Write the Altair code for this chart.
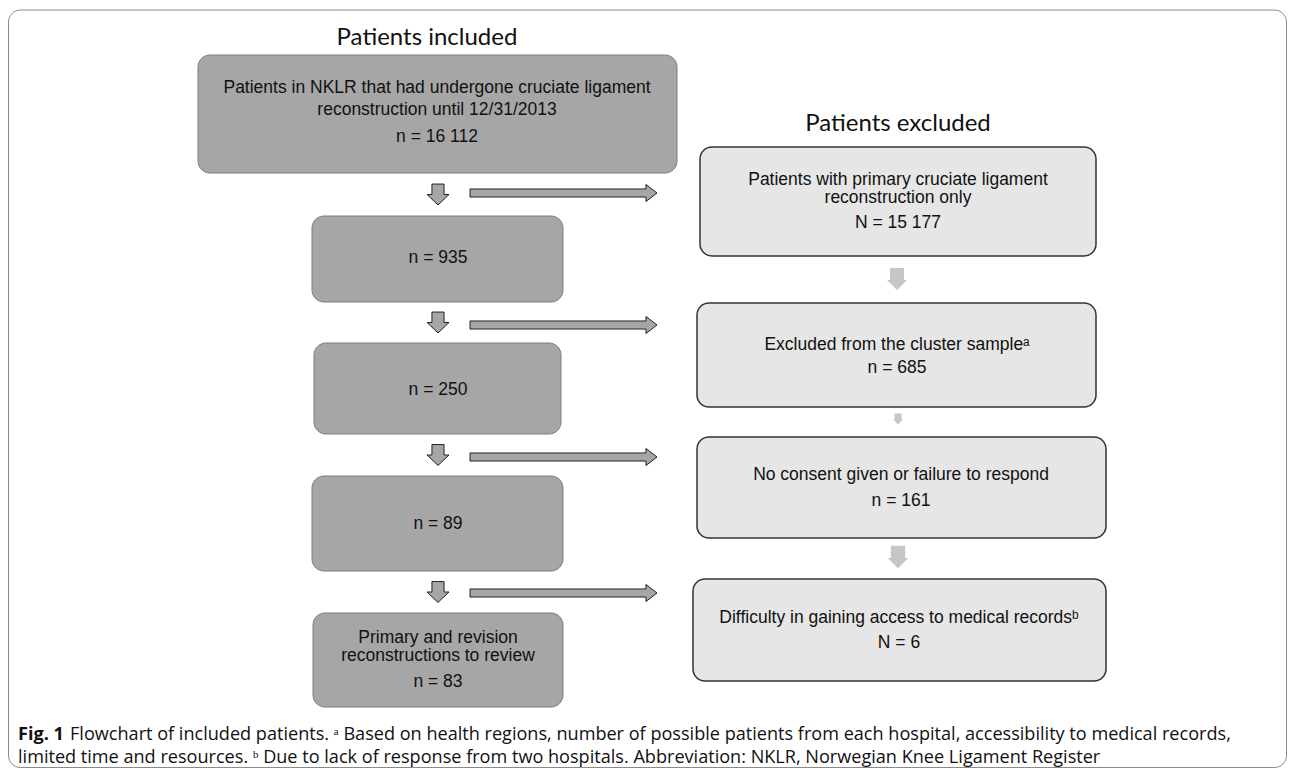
import altair as alt
import pandas as pd

# ---------------- content ----------------
title_included = "Patients included"
title_excluded = "Patients excluded"

included_labels = [
    ["Patients in NKLR that had undergone cruciate ligament", "reconstruction until 12/31/2013"],
    [],
    [],
    [],
    ["Primary and revision", "reconstructions to review"],
]
included_counts = ["n = 16 112", "n = 935", "n = 250", "n = 89", "n = 83"]

excluded_labels = [
    ["Patients with primary cruciate ligament", "reconstruction only"],
    ["Excluded from the cluster sample\u1d43"],
    ["No consent given or failure to respond"],
    ["Difficulty in gaining access to medical records\u1d47"],
]
excluded_counts = ["N = 15 177", "n = 685", "n = 161", "N = 6"]

caption_bold = "Fig. 1"
caption_line1 = ("Flowchart of included patients. \u1d43 Based on health regions, number of possible "
                 "patients from each hospital, accessibility to medical records,")
caption_line2 = ("limited time and resources. \u1d47 Due to lack of response from two hospitals. "
                 "Abbreviation: NKLR, Norwegian Knee Ligament Register")

# ---------------- layout (pixel space of the page) ----------------
inc_x0 = [198, 312, 314, 312, 313]
inc_x1 = [677, 563, 561, 563, 563]
inc_y0 = [55, 216, 343, 476, 613]
inc_y1 = [173, 302, 434, 571, 707]
inc_cx = [437, 438, 438, 438, 438]
inc_line_y = [[88, 110], [], [], [], [638, 656]]
inc_count_y = [137, 258, 390, 524, 682]

exc_x0 = [700, 697, 697, 693]
exc_x1 = [1096, 1096, 1106, 1106]
exc_y0 = [147, 303, 437, 579]
exc_y1 = [256, 407, 538, 681]
exc_cx = [898, 897, 901, 899]
exc_line_y = [[180, 198], [345], [475], [618]]
exc_count_y = [223, 368, 501, 643]

down_y = [194.5, 322.5, 455, 592]
down_x = 438
right_y = [193, 325, 457, 593]
right_x = 563.5
light_y = [279, 419, 557]
light_x = [897, 898, 898]
light_size = [400, 100, 420]

DARK_FILL = "#a6a6a6"
DARK_STROKE = "#7c7c7c"
LIGHT_FILL = "#e6e6e6"
LIGHT_STROKE = "#333333"
BOX_FONT = "Liberation Sans"
TITLE_FONT = "Lato"
CAP_FONT = "Open Sans"
CAP_SIZE = 18.1

X0, X1 = 8, 1287
Y0, Y1 = 8, 768
xs = alt.Scale(domain=[X0, X1], nice=False, zero=False)
ys = alt.Scale(domain=[Y0, Y1], nice=False, zero=False, reverse=True)
noax = None

def X(f):
    return alt.X(f, type="quantitative", scale=xs, axis=noax)

def Y(f):
    return alt.Y(f, type="quantitative", scale=ys, axis=noax)

# boxes
boxes = pd.DataFrame(
    [dict(x0=a, x1=b, y0=c, y1=d, kind="inc") for a, b, c, d in zip(inc_x0, inc_x1, inc_y0, inc_y1)]
    + [dict(x0=a, x1=b, y0=c, y1=d, kind="exc") for a, b, c, d in zip(exc_x0, exc_x1, exc_y0, exc_y1)]
)
inc_boxes = alt.Chart(boxes[boxes.kind == "inc"]).mark_rect(
    fill=DARK_FILL, stroke=DARK_STROKE, strokeWidth=1, cornerRadius=12
).encode(x=X("x0"), x2="x1", y=Y("y0"), y2="y1")
exc_boxes = alt.Chart(boxes[boxes.kind == "exc"]).mark_rect(
    fill=LIGHT_FILL, stroke=LIGHT_STROKE, strokeWidth=1.5, cornerRadius=12
).encode(x=X("x0"), x2="x1", y=Y("y0"), y2="y1")

# frame
frame_df = pd.DataFrame([dict(x0=8.5, x1=1286.5, y0=10, y1=767.5)])
frame = alt.Chart(frame_df).mark_rect(
    fill=None, stroke="#8a8a8a", strokeWidth=1, cornerRadius=12
).encode(x=X("x0"), x2="x1", y=Y("y0"), y2="y1")

# box texts
rows = []
for lines, ly, cnt, cy, cx in zip(included_labels, inc_line_y, included_counts, inc_count_y, inc_cx):
    for t, y in zip(lines, ly):
        rows.append(dict(x=cx, y=y, t=t))
    rows.append(dict(x=cx, y=cy, t=cnt))
for lines, ly, cnt, cy, cx in zip(excluded_labels, exc_line_y, excluded_counts, exc_count_y, exc_cx):
    for t, y in zip(lines, ly):
        rows.append(dict(x=cx, y=y, t=t))
    rows.append(dict(x=cx, y=cy, t=cnt))
box_text = alt.Chart(pd.DataFrame(rows)).mark_text(
    font=BOX_FONT, fontSize=17.5, color="#111111", align="center", baseline="middle"
).encode(x=X("x"), y=Y("y"), text="t:N")

# titles
titles = pd.DataFrame([dict(x=427, y=38, t=title_included), dict(x=898, y=124, t=title_excluded)])
title_text = alt.Chart(titles).mark_text(
    font=TITLE_FONT, fontSize=24, color="#111111", align="center", baseline="middle"
).encode(x=X("x"), y=Y("y"), text="t:N")

# arrows
down_path = "M-0.55,-0.95 L0.55,-0.95 L0.55,0 L1,0 L0,0.95 L-1,0 L-0.55,0 Z"
right_path = ("M-1,-0.043 L0.882,-0.043 L0.882,-0.091 L1,0 L0.882,0.091 "
              "L0.882,0.043 L-1,0.043 Z")
light_path = "M-0.7,-1.1 L0.7,-1.1 L0.7,0.1 L1,0.1 L0,1.1 L-1,0.1 L-0.7,0.1 Z"

down_df = pd.DataFrame(dict(x=[down_x] * len(down_y), y=down_y))
down_arrows = alt.Chart(down_df).mark_point(
    shape=down_path, size=484, filled=True, fill=DARK_FILL, stroke="#222222",
    strokeWidth=1, opacity=1
).encode(x=X("x"), y=Y("y"))

right_df = pd.DataFrame(dict(x=[right_x] * len(right_y), y=right_y))
right_arrows = alt.Chart(right_df).mark_point(
    shape=right_path, size=4 * 93.5 ** 2, filled=True, fill=DARK_FILL, stroke="#222222",
    strokeWidth=1, opacity=1
).encode(x=X("x"), y=Y("y"))

light_df = pd.DataFrame(dict(x=light_x, y=light_y, s=light_size))
light_arrows = alt.Chart(light_df).mark_point(
    shape=light_path, filled=True, fill="#c6c6c6", strokeWidth=0, opacity=1
).encode(x=X("x"), y=Y("y"), size=alt.Size("s:Q", scale=None, legend=None))

# caption
cap = pd.DataFrame([
    dict(x=18, y=735, t=caption_bold, w="bold"),
    dict(x=70, y=735, t=caption_line1, w="normal"),
    dict(x=18, y=758, t=caption_line2, w="normal"),
])
cap_bold = alt.Chart(cap[cap.w == "bold"]).mark_text(
    font=CAP_FONT, fontSize=CAP_SIZE, fontWeight="bold", color="#111111", align="left", baseline="middle"
).encode(x=X("x"), y=Y("y"), text="t:N")
cap_norm = alt.Chart(cap[cap.w == "normal"]).mark_text(
    font=CAP_FONT, fontSize=CAP_SIZE, color="#111111", align="left", baseline="middle"
).encode(x=X("x"), y=Y("y"), text="t:N")

chart = alt.layer(
    frame, inc_boxes, exc_boxes, box_text, title_text,
    down_arrows, right_arrows, light_arrows, cap_bold, cap_norm
).properties(
    width=X1 - X0, height=Y1 - Y0, padding=0,
    autosize=alt.AutoSizeParams(type="none"),
    background="white",
).configure_view(strokeWidth=0)

chart.save("out.html", embed_options={"renderer": "svg", "actions": False})
